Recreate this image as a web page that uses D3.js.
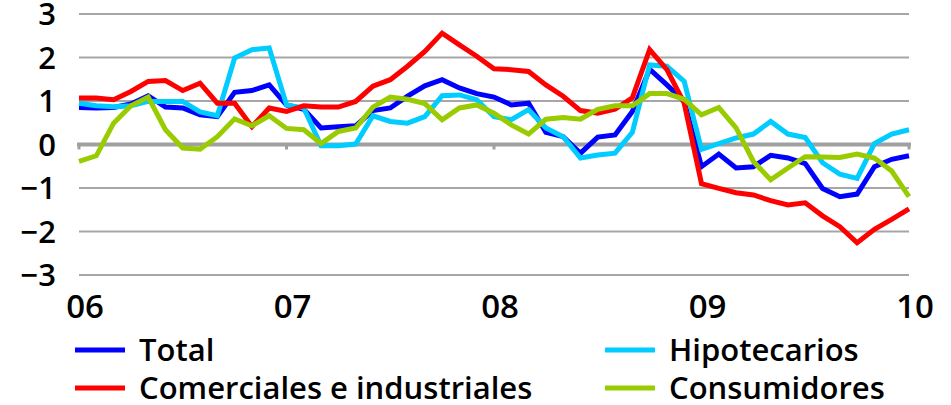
<!DOCTYPE html>
<html>
<head>
<meta charset="utf-8">
<script src="https://d3js.org/d3.v7.min.js"></script>
<style>
  body { margin: 0; background: #fff; }
  text { font-family: "Open Sans", "Liberation Sans", sans-serif; font-weight: 600; fill: #000; }
</style>
</head>
<body>
<div id="chart"></div>
<script>
// monthly, Jan 2006 .. Jan 2010
var yearLabels = ["06", "07", "08", "09", "10"];
var yTicks = [-3, -2, -1, 0, 1, 2, 3];

var total = [0.85, 0.84, 0.85, 0.93, 1.12, 0.86, 0.84, 0.68, 0.64, 1.20, 1.24, 1.37, 0.91,
  0.81, 0.38, 0.41, 0.43, 0.78, 0.84, 1.11, 1.35, 1.49, 1.30, 1.17, 1.09,
  0.91, 0.95, 0.28, 0.18, -0.20, 0.17, 0.22, 0.76, 1.73, 1.37, 0.99, -0.51,
  -0.22, -0.54, -0.51, -0.25, -0.31, -0.44, -1.01, -1.20, -1.14, -0.51, -0.34, -0.26];

var hipotecarios = [0.95, 0.89, 0.87, 0.89, 0.99, 0.99, 0.99, 0.75, 0.66, 1.99, 2.18, 2.22, 0.91,
  0.84, -0.03, -0.03, 0.01, 0.66, 0.53, 0.49, 0.64, 1.12, 1.14, 1.03, 0.64,
  0.57, 0.80, 0.38, 0.18, -0.31, -0.24, -0.20, 0.28, 1.83, 1.80, 1.45, -0.11,
  0.02, 0.15, 0.24, 0.53, 0.24, 0.16, -0.42, -0.68, -0.78, 0.02, 0.24, 0.34];

var comerciales = [1.07, 1.07, 1.03, 1.22, 1.45, 1.47, 1.24, 1.41, 0.95, 0.95, 0.41, 0.84, 0.76,
  0.89, 0.86, 0.86, 0.99, 1.34, 1.49, 1.80, 2.14, 2.56, 2.29, 2.03, 1.74,
  1.72, 1.68, 1.37, 1.11, 0.78, 0.72, 0.81, 1.07, 2.18, 1.72, 0.95, -0.90,
  -1.01, -1.11, -1.16, -1.29, -1.39, -1.34, -1.64, -1.89, -2.26, -1.95, -1.72, -1.48];

var consumidores = [-0.39, -0.26, 0.49, 0.89, 1.09, 0.34, -0.08, -0.11, 0.18, 0.59, 0.43, 0.66, 0.37,
  0.34, 0.02, 0.30, 0.38, 0.86, 1.09, 1.04, 0.94, 0.57, 0.84, 0.91, 0.72,
  0.45, 0.24, 0.58, 0.62, 0.58, 0.81, 0.89, 0.89, 1.17, 1.17, 1.04, 0.68,
  0.85, 0.38, -0.39, -0.81, -0.54, -0.28, -0.29, -0.30, -0.22, -0.31, -0.61, -1.20];

var series = [
  {name: "Total", values: total, color: "#0000ff"},
  {name: "Hipotecarios", values: hipotecarios, color: "#00ccff"},
  {name: "Comerciales e industriales", values: comerciales, color: "#ff0000"},
  {name: "Consumidores", values: consumidores, color: "#99cc00"}
];

var W = 951, H = 405;
var svg = d3.select("#chart").append("svg")
  .attr("width", W).attr("height", H);

var x = d3.scaleLinear().domain([0, 48]).range([79, 909]);
var y = d3.scaleLinear().domain([-3, 3]).range([275, 14]);

// gridlines
svg.append("g").selectAll("line")
  .data(yTicks.filter(function(d) { return d != 0; }))
  .enter().append("line")
    .attr("x1", x(0)).attr("x2", x(48))
    .attr("y1", function(d) { return y(d); })
    .attr("y2", function(d) { return y(d); })
    .attr("stroke", "#a6a6a6").attr("stroke-width", 2);

// y labels
svg.append("g").selectAll("text")
  .data(yTicks)
  .enter().append("text")
    .attr("x", 56)
    .attr("y", function(d) { return y(d); })
    .attr("dy", "0.36em")
    .attr("text-anchor", "end")
    .attr("font-size", 31)
    .text(function(d) { return d < 0 ? "\u2212" + Math.abs(d) : d; });

// zero axis with year ticks
var axisG = svg.append("g");
axisG.append("line")
  .attr("x1", x(0) - 2).attr("x2", x(48) + 2)
  .attr("y1", y(0)).attr("y2", y(0))
  .attr("stroke", "#a0a0a0").attr("stroke-width", 4);
axisG.selectAll("line.tick")
  .data(yearLabels)
  .enter().append("line")
    .attr("class", "tick")
    .attr("x1", function(d, i) { return x(i * 12); })
    .attr("x2", function(d, i) { return x(i * 12); })
    .attr("y1", y(0)).attr("y2", y(0) + 5)
    .attr("stroke", "#a0a0a0").attr("stroke-width", 3);

// year labels
svg.append("g").selectAll("text")
  .data(yearLabels)
  .enter().append("text")
    .attr("x", function(d, i) { return x(i * 12) + 6; })
    .attr("y", 318)
    .attr("text-anchor", "middle")
    .attr("font-size", 33)
    .text(function(d) { return d; });

// lines
var line = d3.line()
  .x(function(d, i) { return x(i); })
  .y(function(d) { return y(d); });

svg.append("g").selectAll("path")
  .data(series)
  .enter().append("path")
    .attr("d", function(d) { return line(d.values); })
    .attr("fill", "none")
    .attr("stroke", function(d) { return d.color; })
    .attr("stroke-width", 5)
    .attr("stroke-linejoin", "miter");

// legend, 2 columns
var legendPos = [[75, 350], [605, 350], [75, 388], [605, 388]];
var leg = svg.append("g").selectAll("g")
  .data(series)
  .enter().append("g")
    .attr("transform", function(d, i) {
      return "translate(" + legendPos[i][0] + "," + legendPos[i][1] + ")"; });
leg.append("line")
  .attr("x1", 0).attr("x2", 50)
  .attr("stroke", function(d) { return d.color; })
  .attr("stroke-width", 5);
leg.append("text")
  .attr("x", 64).attr("dy", "0.35em")
  .attr("font-size", 31)
  .text(function(d) { return d.name; });
</script>
</body>
</html>
